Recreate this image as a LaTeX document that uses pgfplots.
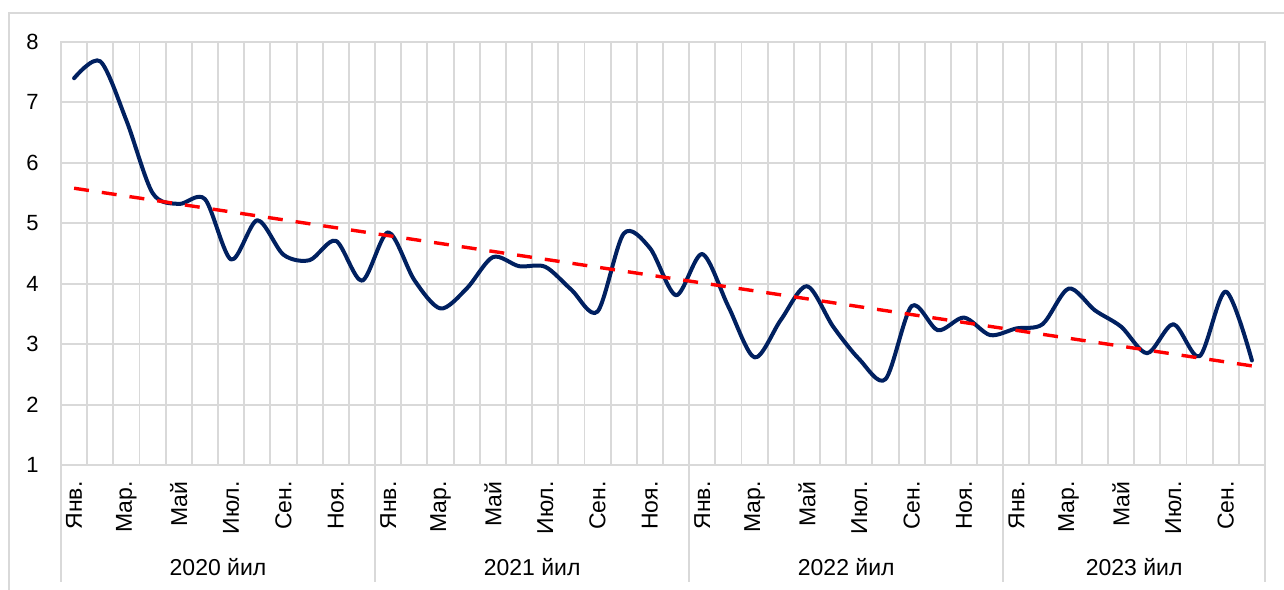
\documentclass[border=0pt]{standalone}
\usepackage{fontspec}
\setmainfont{Liberation Sans}
\usepackage{pgfplots}
\pgfplotsset{compat=1.18}
\definecolor{gridgray}{HTML}{D9D9D9}
\definecolor{navy}{HTML}{002060}
\newcommand{\lblfont}{\fontsize{11.5}{13}\selectfont}
\begin{document}
\begin{tikzpicture}
\path[use as bounding box] (0,0) rectangle (642pt,294.5pt);
\draw[gridgray, line width=0.9pt] (4.5pt,-10pt) -- (4.5pt,288pt) -- (660pt,288pt);
\begin{axis}[
  at={(30.5pt,62pt)}, anchor=south west,
  scale only axis, width=602pt, height=211.5pt,
  xmin=-0.5, xmax=45.5, ymin=1, ymax=8,
  xtick={-0.5,0.5,...,45.5}, xticklabels={},
  ytick={1,2,3,4,5,6,7,8},
  grid=major, grid style={gridgray, line width=0.95pt},
  axis line style={gridgray, line width=0.95pt},
  major tick length=0pt,
  tick style={draw=none},
  yticklabel style={font=\fontsize{11}{13}\selectfont, inner sep=0pt, xshift=-11pt},
  /pgf/number format/assume math mode=true,
  clip=false,
]
\addplot[navy, line width=2pt, smooth, line cap=round, line join=round] coordinates {
(0,7.40) (1,7.68) (2,6.70) (3,5.50) (4,5.32) (5,5.40) (6,4.40) (7,5.05)
(8,4.48) (9,4.39) (10,4.71) (11,4.05) (12,4.85) (13,4.06) (14,3.59) (15,3.92)
(16,4.44) (17,4.29) (18,4.28) (19,3.90) (20,3.54) (21,4.83) (22,4.59) (23,3.81)
(24,4.49) (25,3.62) (26,2.78) (27,3.40) (28,3.96) (29,3.29) (30,2.75) (31,2.42)
(32,3.63) (33,3.23) (34,3.44) (35,3.15) (36,3.26) (37,3.33) (38,3.92) (39,3.56)
(40,3.29) (41,2.85) (42,3.33) (43,2.80) (44,3.87) (45,2.73)
};
\addplot[red, line width=1.7pt, dash pattern=on 7.5pt off 6.5pt, line cap=butt] coordinates {(0,5.58) (45,2.64)};
% year separators
\draw[gridgray, line width=0.95pt] (axis cs:-0.5,1) -- ++(0pt,-58.5pt);
\draw[gridgray, line width=0.95pt] (axis cs:11.5,1) -- ++(0pt,-58.5pt);
\draw[gridgray, line width=0.95pt] (axis cs:23.5,1) -- ++(0pt,-58.5pt);
\draw[gridgray, line width=0.95pt] (axis cs:35.5,1) -- ++(0pt,-58.5pt);
\draw[gridgray, line width=0.95pt] (axis cs:45.5,1) -- ++(0pt,-58.5pt);
% month labels
\node[rotate=90, anchor=east, inner sep=0pt, font=\lblfont] at ([yshift=-8pt]axis cs:0,1) {Янв.};
\node[rotate=90, anchor=east, inner sep=0pt, font=\lblfont] at ([yshift=-8pt]axis cs:2,1) {Мар.};
\node[rotate=90, anchor=east, inner sep=0pt, font=\lblfont] at ([yshift=-8pt]axis cs:4,1) {Май};
\node[rotate=90, anchor=east, inner sep=0pt, font=\lblfont] at ([yshift=-8pt]axis cs:6,1) {Июл.};
\node[rotate=90, anchor=east, inner sep=0pt, font=\lblfont] at ([yshift=-8pt]axis cs:8,1) {Сен.};
\node[rotate=90, anchor=east, inner sep=0pt, font=\lblfont] at ([yshift=-8pt]axis cs:10,1) {Ноя.};
\node[rotate=90, anchor=east, inner sep=0pt, font=\lblfont] at ([yshift=-8pt]axis cs:12,1) {Янв.};
\node[rotate=90, anchor=east, inner sep=0pt, font=\lblfont] at ([yshift=-8pt]axis cs:14,1) {Мар.};
\node[rotate=90, anchor=east, inner sep=0pt, font=\lblfont] at ([yshift=-8pt]axis cs:16,1) {Май};
\node[rotate=90, anchor=east, inner sep=0pt, font=\lblfont] at ([yshift=-8pt]axis cs:18,1) {Июл.};
\node[rotate=90, anchor=east, inner sep=0pt, font=\lblfont] at ([yshift=-8pt]axis cs:20,1) {Сен.};
\node[rotate=90, anchor=east, inner sep=0pt, font=\lblfont] at ([yshift=-8pt]axis cs:22,1) {Ноя.};
\node[rotate=90, anchor=east, inner sep=0pt, font=\lblfont] at ([yshift=-8pt]axis cs:24,1) {Янв.};
\node[rotate=90, anchor=east, inner sep=0pt, font=\lblfont] at ([yshift=-8pt]axis cs:26,1) {Мар.};
\node[rotate=90, anchor=east, inner sep=0pt, font=\lblfont] at ([yshift=-8pt]axis cs:28,1) {Май};
\node[rotate=90, anchor=east, inner sep=0pt, font=\lblfont] at ([yshift=-8pt]axis cs:30,1) {Июл.};
\node[rotate=90, anchor=east, inner sep=0pt, font=\lblfont] at ([yshift=-8pt]axis cs:32,1) {Сен.};
\node[rotate=90, anchor=east, inner sep=0pt, font=\lblfont] at ([yshift=-8pt]axis cs:34,1) {Ноя.};
\node[rotate=90, anchor=east, inner sep=0pt, font=\lblfont] at ([yshift=-8pt]axis cs:36,1) {Янв.};
\node[rotate=90, anchor=east, inner sep=0pt, font=\lblfont] at ([yshift=-8pt]axis cs:38,1) {Мар.};
\node[rotate=90, anchor=east, inner sep=0pt, font=\lblfont] at ([yshift=-8pt]axis cs:40,1) {Май};
\node[rotate=90, anchor=east, inner sep=0pt, font=\lblfont] at ([yshift=-8pt]axis cs:42,1) {Июл.};
\node[rotate=90, anchor=east, inner sep=0pt, font=\lblfont] at ([yshift=-8pt]axis cs:44,1) {Сен.};
% year labels
\node[font=\lblfont, anchor=center] at ([yshift=-51pt]axis cs:5.5,1) {2020 йил};
\node[font=\lblfont, anchor=center] at ([yshift=-51pt]axis cs:17.5,1) {2021 йил};
\node[font=\lblfont, anchor=center] at ([yshift=-51pt]axis cs:29.5,1) {2022 йил};
\node[font=\lblfont, anchor=center] at ([yshift=-51pt]axis cs:40.5,1) {2023 йил};
\end{axis}
\end{tikzpicture}
\end{document}
